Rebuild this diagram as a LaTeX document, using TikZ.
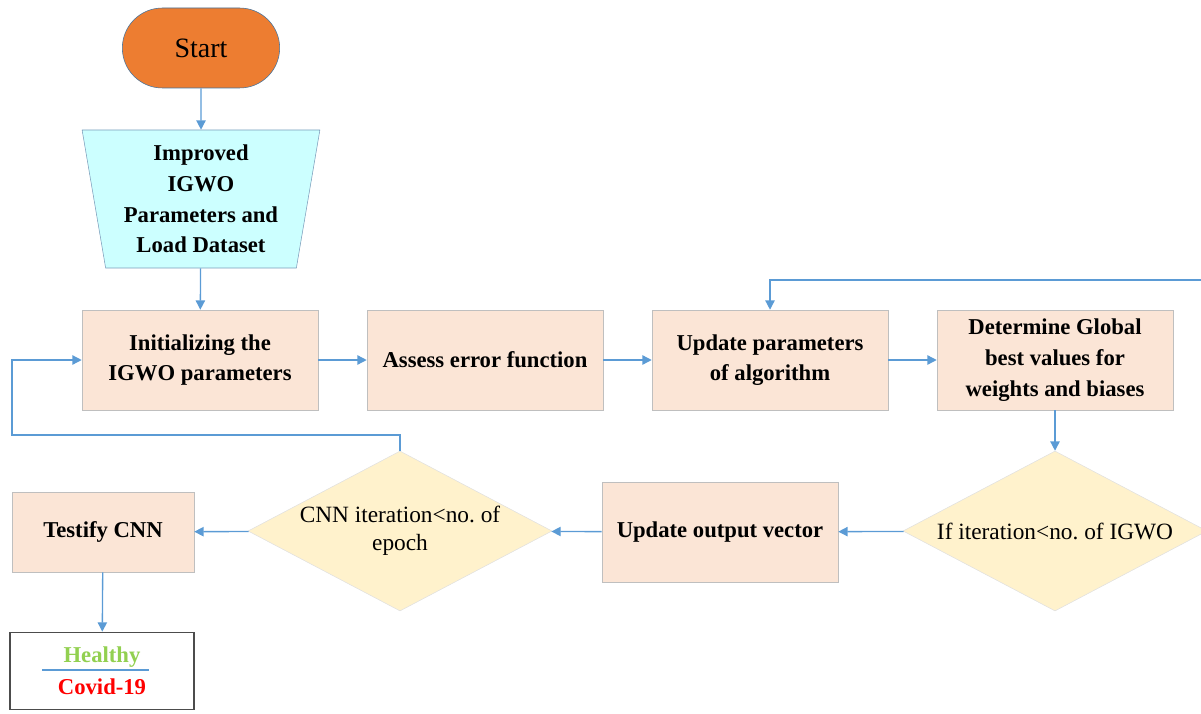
\documentclass[tikz,border=0pt]{standalone}
\usepackage{fontspec}
\setmainfont{Liberation Serif}
\usetikzlibrary{arrows.meta,shapes.geometric}
\definecolor{flowline}{HTML}{5B9BD5}
\definecolor{startfill}{HTML}{ED7D31}
\definecolor{startedge}{HTML}{41719C}
\definecolor{inputfill}{HTML}{CCFFFF}
\definecolor{processfill}{HTML}{FBE5D6}
\definecolor{decisionfill}{HTML}{FFF2CC}
\definecolor{healthy}{HTML}{92D050}
\tikzset{
  boxfont/.style={font=\fontsize{17}{23}\selectfont\bfseries},
  process/.style={draw=black!25, fill=processfill, minimum width=177pt, minimum height=75pt,
    align=center, inner sep=2pt, boxfont},
  decision/.style={diamond, draw=black!12, fill=decisionfill, minimum width=228pt,
    minimum height=120pt, inner sep=0pt},
  decisiontext/.style={font=\fontsize{17.5}{21}\selectfont, align=center},
  flow/.style={draw=flowline, line width=1pt, -{Triangle[width=7pt,length=7pt]}},
}

\begin{document}
\begin{tikzpicture}[x=0.75pt,y=-0.75pt]
  \path[use as bounding box, clip] (0,0) rectangle (1201,713);

  \node[draw=startedge, fill=startfill, rounded corners=30pt, minimum width=118pt,
    minimum height=60pt, font=\fontsize{21}{24}\selectfont] (start) at (201,48) {Start};
  \node[trapezium, shape border rotate=180, trapezium left angle=80, trapezium right angle=80,
    trapezium stretches=true, draw=startedge!70, fill=inputfill, minimum width=178.5pt,
    minimum height=103.5pt, inner sep=0pt, align=center, boxfont] (params) at (201,199)
    {Improved\\IGWO\\Parameters and\\Load Dataset};

  \node[process] (init) at (200,360) {Initializing the\\IGWO parameters};
  \node[process] (assess) at (485,360) {Assess error function};
  \node[process] (update) at (770,360) {Update parameters\\of algorithm};
  \node[process] (global) at (1055,360) {Determine Global\\best values for\\weights and biases};

  \node[decision, label={[decisiontext]center:If iteration<no.\ of IGWO}] (checkiter) at (1055,531) {};
  \node[process] (output) at (720,532) {Update output vector};
  \node[decision, label={[decisiontext]center:CNN iteration<no.\ of\\epoch}] (checkepoch) at (400,531) {};
  \node[process, minimum width=136.5pt, minimum height=60pt] (testify) at (103,532) {Testify CNN};
  \node[draw=black!70, line width=1pt, fill=white, minimum width=138pt, minimum height=58pt,
    align=center, font=\fontsize{17}{24}\selectfont\bfseries,
    path picture={\draw[flowline, line width=1.5pt]
      ([xshift=-45pt,yshift=0.5pt]path picture bounding box.center) --
      ([xshift=35pt,yshift=0.5pt]path picture bounding box.center);}] (result) at (102,671)
    {\textcolor{healthy}{Healthy}\\\textcolor{red}{Covid-19}};

  \coordinate (looptop) at (1215,280);
  \coordinate (loopleft) at (12,435);

  \draw[flow] (start) -- (params);
  \draw[flow] (params) -- (init);
  \draw[flow] (init) -- (assess);
  \draw[flow] (assess) -- (update);
  \draw[flow] (update) -- (global);
  \draw[flow] (global) -- (checkiter);
  \draw[flow] (checkiter) -- (output);
  \draw[flow] (output) -- (checkepoch);
  \draw[flow] (checkepoch) -- (testify);
  \draw[flow] (testify) -- (result);
  \draw[flow] (checkiter.east) -| (looptop) -| (update.north);
  \draw[flow] (checkepoch.north) |- (loopleft) |- (init.west);
\end{tikzpicture}
\end{document}
